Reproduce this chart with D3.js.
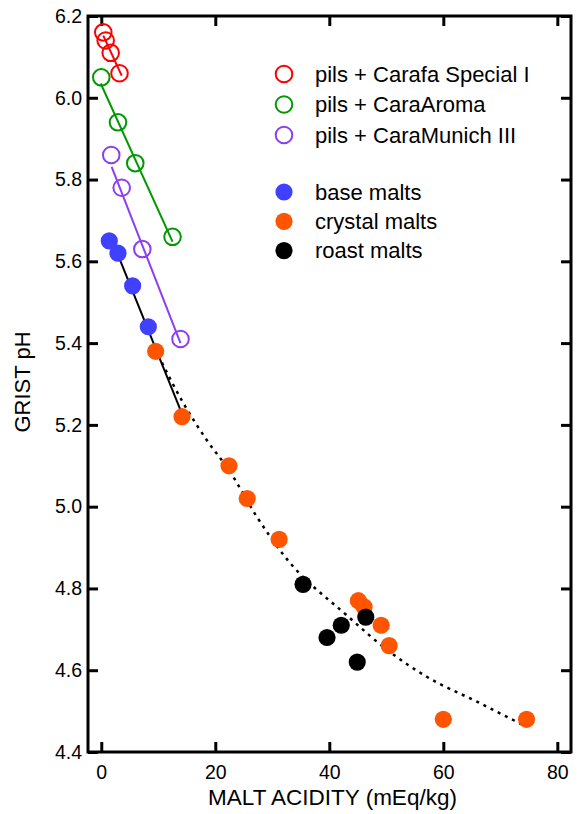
<!DOCTYPE html>
<html>
<head>
<meta charset="utf-8">
<script src="https://cdn.jsdelivr.net/npm/d3@7"></script>
<style>
  body { margin: 0; background: #fff; }
  text { font-family: "Liberation Sans", Arial, sans-serif; fill: #000; }
</style>
</head>
<body>
<div id="chart"></div>
<script>
// open-circle blends: pils + specialty malt
const carafaX = [0.35, 0.77, 1.65, 3.2];
const carafaY = [6.16, 6.14, 6.11, 6.06];
const aromaX = [0, 2.93, 5.96, 12.5];
const aromaY = [6.05, 5.94, 5.84, 5.66];
const munichX = [1.75, 3.58, 7.2, 13.9];
const munichY = [5.86, 5.78, 5.63, 5.41];

// filled: single malts
const baseX = [1.4, 2.93, 5.5, 8.25];
const baseY = [5.65, 5.62, 5.54, 5.44];
const crystalX = [9.54, 14.16, 22.4, 25.6, 31.2, 45.1, 46.1, 49.1, 50.5, 60, 74.6];
const crystalY = [5.38, 5.22, 5.10, 5.02, 4.92, 4.77, 4.755, 4.71, 4.66, 4.48, 4.48];
const roastX = [35.4, 46.4, 42.1, 39.6, 44.9];
const roastY = [4.81, 4.73, 4.71, 4.68, 4.62];

// fit lines (end points)
const carafaFit = [[0.35, 6.152], [3.58, 6.054]];
const aromaFit = [[-0.1, 6.035], [12.5, 5.648]];
const munichFit = [[1.82, 5.831], [13.9, 5.40]];
const baseFit = [[1.53, 5.664], [14.2, 5.226]];
// dotted trend through the crystal/roast malts
const trendX = [10, 14.4, 18.5, 22.6, 27.3, 32.2, 43, 50.6, 57.1, 65.9, 74];
const trendY = [5.37, 5.253, 5.163, 5.085, 4.975, 4.878, 4.735, 4.645, 4.584, 4.523, 4.466];

const xTicks = [0, 20, 40, 60, 80];
const yTicks = [4.4, 4.6, 4.8, 5.0, 5.2, 5.4, 5.6, 5.8, 6.0, 6.2];

const legendOpen = [
  {label: "pils + Carafa Special I", color: "#ff0000"},
  {label: "pils + CaraAroma", color: "#009a00"},
  {label: "pils + CaraMunich III", color: "#8c3ff0"}
];
const legendFilled = [
  {label: "base malts", color: "#4040ff"},
  {label: "crystal malts", color: "#ff5500"},
  {label: "roast malts", color: "#000000"}
];

const W = 584, H = 814;
const margin = {top: 16, right: 13, bottom: 62, left: 88},
    width = W - margin.left - margin.right,
    height = H - margin.top - margin.bottom;

const svg = d3.select("#chart")
  .append("svg")
    .attr("width", W)
    .attr("height", H)
  .append("g")
    .attr("transform", `translate(${margin.left},${margin.top})`);

const x = d3.scaleLinear().domain([-2.33, 82.4]).range([0, width]);
const y = d3.scaleLinear().domain([4.4, 6.2]).range([height, 0]);

function styleAxis(g) {
  g.select(".domain").remove();
  g.selectAll(".tick line").attr("stroke", "#000").attr("stroke-width", 3);
  g.selectAll(".tick text").style("font-size", "19.5px").style("font-family", "Liberation Sans, Arial, sans-serif");
}

svg.append("g")
    .attr("transform", `translate(0,${height})`)
    .call(d3.axisBottom(x).tickValues(xTicks).tickFormat(d3.format("d")).tickSizeInner(-10).tickSizeOuter(0).tickPadding(13))
    .call(styleAxis);
svg.append("g")
    .call(d3.axisTop(x).tickValues(xTicks).tickFormat("").tickSizeInner(-10).tickSizeOuter(0))
    .call(styleAxis);
svg.append("g")
    .call(d3.axisLeft(y).tickValues(yTicks).tickFormat(d3.format(".1f")).tickSizeInner(-10).tickSizeOuter(0).tickPadding(6))
    .call(styleAxis);
svg.append("g")
    .attr("transform", `translate(${width},0)`)
    .call(d3.axisRight(y).tickValues(yTicks).tickFormat("").tickSizeInner(-10).tickSizeOuter(0))
    .call(styleAxis);

svg.append("rect")
    .attr("width", width)
    .attr("height", height)
    .attr("fill", "none")
    .attr("stroke", "#000")
    .attr("stroke-width", 3);

svg.append("text")
    .attr("x", width / 2 + 3)
    .attr("y", height + 53)
    .attr("text-anchor", "middle")
    .style("font-size", "22.5px")
    .text("MALT ACIDITY (mEq/kg)");

svg.append("text")
    .attr("transform", `translate(${-58},${height / 2 - 2}) rotate(-90)`)
    .attr("text-anchor", "middle")
    .style("font-size", "22px")
    .text("GRIST pH");

const line = d3.line().x(d => x(d[0])).y(d => y(d[1]));

// dotted trend
svg.append("path")
    .datum(d3.zip(trendX, trendY))
    .attr("d", line.curve(d3.curveMonotoneX))
    .attr("fill", "none")
    .attr("stroke", "#000")
    .attr("stroke-width", 2.5)
    .attr("stroke-dasharray", "3,5");

const fits = [
  {pts: baseFit, color: "#000"},
  {pts: carafaFit, color: legendOpen[0].color},
  {pts: aromaFit, color: legendOpen[1].color},
  {pts: munichFit, color: legendOpen[2].color}
];
fits.forEach(f => {
  svg.append("path")
      .datum(f.pts)
      .attr("d", d3.line().x(d => x(d[0])).y(d => y(d[1])))
      .attr("fill", "none")
      .attr("stroke", f.color)
      .attr("stroke-width", 2);
});

const R = 8.6;

function filled(xs, ys, color) {
  svg.append("g").selectAll("circle")
    .data(d3.zip(xs, ys))
    .enter()
    .append("circle")
      .attr("cx", d => x(d[0]))
      .attr("cy", d => y(d[1]))
      .attr("r", R)
      .attr("fill", color);
}
filled(baseX, baseY, legendFilled[0].color);
filled(crystalX, crystalY, legendFilled[1].color);
filled(roastX, roastY, legendFilled[2].color);

function open(xs, ys, color) {
  svg.append("g").selectAll("circle")
    .data(d3.zip(xs, ys))
    .enter()
    .append("circle")
      .attr("cx", d => x(d[0]))
      .attr("cy", d => y(d[1]))
      .attr("r", 8.3)
      .attr("fill", "none")
      .attr("stroke", color)
      .attr("stroke-width", 2);
}
open(carafaX, carafaY, legendOpen[0].color);
open(aromaX, aromaY, legendOpen[1].color);
open(munichX, munichY, legendOpen[2].color);

// legend
const leg = svg.append("g").attr("transform", `translate(${284 - margin.left},${74 - margin.top})`);
legendOpen.forEach((d, i) => {
  const g = leg.append("g").attr("transform", `translate(0,${i * 30.5})`);
  g.append("circle").attr("r", 8.3).attr("fill", "none").attr("stroke", d.color).attr("stroke-width", 2);
  g.append("text").attr("x", 31).attr("dy", "0.35em").style("font-size", "22px").text(d.label);
});
legendFilled.forEach((d, i) => {
  const g = leg.append("g").attr("transform", `translate(0,${118 + i * 29.3})`);
  g.append("circle").attr("r", R).attr("fill", d.color);
  g.append("text").attr("x", 31).attr("dy", "0.35em").style("font-size", "22px").text(d.label);
});
</script>
</body>
</html>
